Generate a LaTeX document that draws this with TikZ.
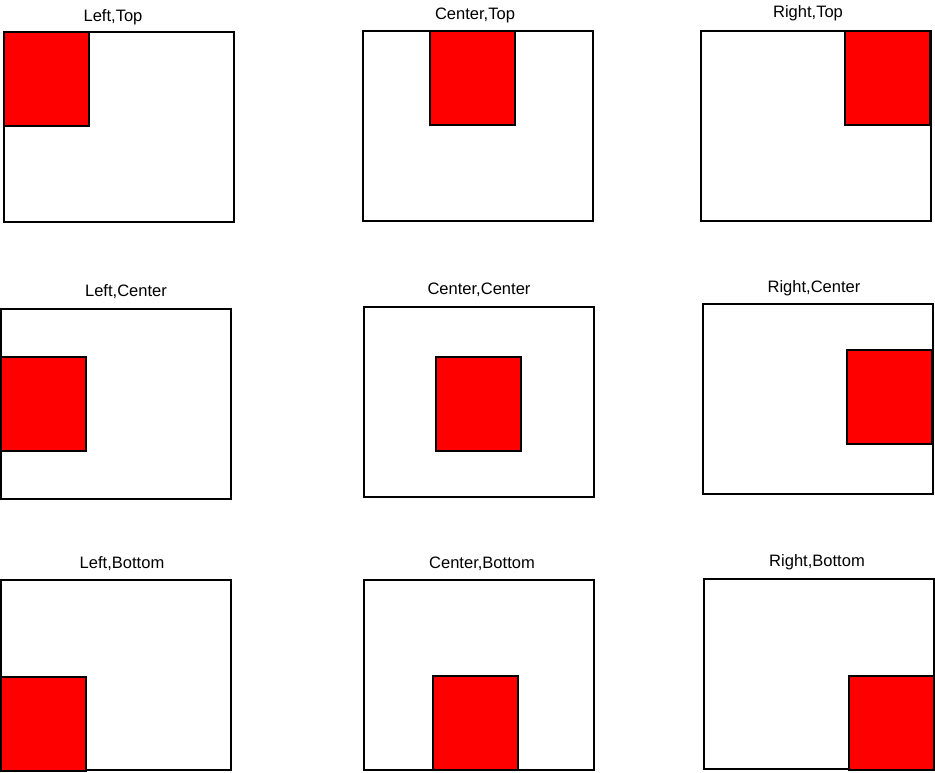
\documentclass[tikz,border=0pt]{standalone}
\usepackage{fontspec}
\setmainfont{Liberation Sans}
\usepackage{tikz}
\usetikzlibrary{positioning}

\begin{document}
\begin{tikzpicture}[x=0.75pt, y=-0.75pt]
        \tikzset{frame/.style={rectangle, draw, line width=1.4pt, inner sep=0pt, outer sep=0pt, minimum width=172.5pt, minimum height=142.5pt, anchor=north west},
                 block/.style={rectangle, draw, fill=red, line width=1.4pt, inner sep=0pt, outer sep=0pt, minimum width=63.75pt, minimum height=70.5pt, anchor=north west},
                 caption/.style={anchor=base, inner sep=0pt, font=\fontsize{12.4}{14}\selectfont}}
        \useasboundingbox (0,0) rectangle (935,772);
        % name / box / red square / label position / label
        \foreach \n/\bx/\by/\rx/\ry/\lx/\ly/\txt in {
                lt/4/32/4/32/113/21/{Left,Top},
                ct/363/31/430/31/475/19/{Center,Top},
                rt/701/31/845/31/808/17/{Right,Top},
                lc/1/309/1/357/126/296/{Left,Center},
                cc/364/307/436/357/479/294/{Center,Center},
                rc/703/304/847/350/814/292/{Right,Center},
                lb/1/580/1/677/122/568/{Left,Bottom},
                cb/364/580/433/676/482/568/{Center,Bottom},
                rb/704/579/849/676/817/566/{Right,Bottom}} {
            \node[frame] (\n) at (\bx,\by) {};
            \node[block] (\n-sq) at (\rx,\ry) {};
            \node[caption] (\n-lbl) at (\lx,\ly) {\txt};
        }
    \end{tikzpicture}
\end{document}
